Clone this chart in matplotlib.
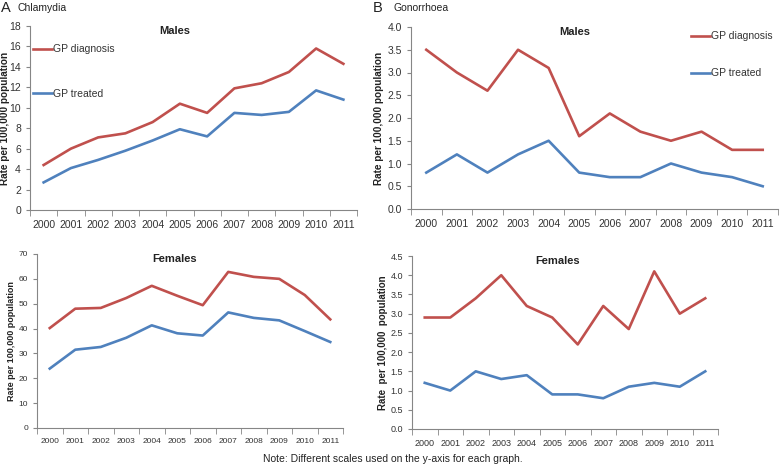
import matplotlib
matplotlib.use('Agg')
import matplotlib.pyplot as plt
import numpy as np

plt.rcParams['font.family'] = ['Liberation Sans', 'DejaVu Sans']

years = ['2000', '2001', '2002', '2003', '2004', '2005',
         '2006', '2007', '2008', '2009', '2010', '2011']

# Chlamydia
chl_m_diag = [4.4, 6.0, 7.1, 7.5, 8.6, 10.4, 9.5, 11.9, 12.4, 13.5, 15.8, 14.3]
chl_m_treat = [2.7, 4.1, 4.9, 5.8, 6.8, 7.9, 7.2, 9.5, 9.3, 9.6, 11.7, 10.8]
chl_f_diag = [40.2, 48.0, 48.3, 52.3, 57.2, 53.2, 49.4, 62.8, 60.8, 60.0, 53.5, 43.7]
chl_f_treat = [23.9, 31.5, 32.6, 36.3, 41.3, 38.1, 37.2, 46.5, 44.3, 43.3, 39.0, 34.6]

# Gonorrhoea
gon_m_diag = [3.5, 3.0, 2.6, 3.5, 3.1, 1.6, 2.1, 1.7, 1.5, 1.7, 1.3, 1.3]
gon_m_treat = [0.8, 1.2, 0.8, 1.2, 1.5, 0.8, 0.7, 0.7, 1.0, 0.8, 0.7, 0.5]
gon_f_diag = [2.9, 2.9, 3.4, 4.0, 3.2, 2.9, 2.2, 3.2, 2.6, 4.1, 3.0, 3.4]
gon_f_treat = [1.2, 1.0, 1.5, 1.3, 1.4, 0.9, 0.9, 0.8, 1.1, 1.2, 1.1, 1.5]

RED = '#C0504D'
BLUE = '#4F81BD'
GREY = '#868686'
TXT = '#333333'

W, H = 780, 466
fig = plt.figure(figsize=(W / 100, H / 100), dpi=100)

def box(l, t, r, b):
    # pixel box -> figure fraction
    return [l / W, (H - b) / H, (r - l) / W, (b - t) / H]

def setup(ax, diag, treat, ymax, ystep, fmt, title, tx, ylabel, ylx, yfs, fs):
    x = np.arange(len(years))
    ax.plot(x, diag, color=RED, lw=1.9, label='GP diagnosis')
    ax.plot(x, treat, color=BLUE, lw=1.9, label='GP treated')
    ax.set_xlim(-0.5, len(years) - 0.5)
    ax.set_ylim(0, ymax)
    yt = np.arange(0, ymax + ystep / 2, ystep)
    ax.set_yticks(yt)
    ax.set_yticklabels([fmt % v for v in yt])
    ax.set_xticks(x)
    ax.set_xticklabels(years)
    ax.set_xticks(np.arange(-0.5, len(years)), minor=True)
    ax.tick_params(axis='x', which='major', length=0, pad=7, labelsize=fs, colors=TXT)
    ax.tick_params(axis='x', which='minor', length=4, direction='out', color=GREY)
    ax.tick_params(axis='y', length=3, direction='out', labelsize=fs, labelcolor=TXT, color=GREY)
    for s in ['top', 'right']:
        ax.spines[s].set_visible(False)
    for s in ['left', 'bottom']:
        ax.spines[s].set_color(GREY)
        ax.spines[s].set_linewidth(0.8)
    ax.text(tx, 1.0, title, transform=ax.transAxes, ha='center', va='top',
            fontsize=8, fontweight='bold', color='#222222')
    ax.set_ylabel(ylabel, fontsize=yfs, fontweight='bold', color='#222222')
    lab = ax.yaxis.get_label()
    lab.set_va('center')
    ax.yaxis.set_label_coords(ylx / W, 0.5, transform=fig.transFigure)
    bb = ax.get_position()
    lab.set_position((ylx / W, bb.y0 + bb.height / 2))

ax1 = fig.add_axes(box(30, 26, 357, 210))
setup(ax1, chl_m_diag, chl_m_treat, 18, 2, '%d', 'Males', 0.443,
      'Rate per 100,000 population', 5, 7.2, 7.5)
ax1.legend(loc='upper left', bbox_to_anchor=(29 / W, 1 - 40 / H), bbox_transform=fig.transFigure,
           frameon=False, fontsize=7.5, handlelength=1.8, handletextpad=0.1,
           labelspacing=3.3, labelcolor=TXT, borderaxespad=0)

ax2 = fig.add_axes(box(411, 27, 778, 209))
setup(ax2, gon_m_diag, gon_m_treat, 4.0, 0.5, '%.1f', 'Males', 0.447,
      'Rate per 100,000 population', 379, 7.2, 7.5)
ax2.legend(loc='upper left', bbox_to_anchor=(687 / W, 1 - 27 / H), bbox_transform=fig.transFigure,
           frameon=False, fontsize=7.5, handlelength=1.8, handletextpad=0.1,
           labelspacing=2.6, labelcolor=TXT, borderaxespad=0)

ax3 = fig.add_axes(box(37, 254, 343, 428))
setup(ax3, chl_f_diag, chl_f_treat, 70, 10, '%d', 'Females', 0.45,
      'Rate per 100,000 population', 12, 6.5, 6)

ax4 = fig.add_axes(box(412, 256, 718, 429))
setup(ax4, gon_f_diag, gon_f_treat, 4.5, 0.5, '%.1f', 'Females', 0.477,
      'Rate  per 100,000  population', 383, 7, 6.5)

fig.text(1 / W, 1 - 8 / H, 'A', fontsize=10.5, va='center', ha='left', color='#222222')
fig.text(18 / W, 1 - 8 / H, 'Chlamydia', fontsize=7.5, va='center', ha='left', color='#222222')
fig.text(373 / W, 1 - 8 / H, 'B', fontsize=10.5, va='center', ha='left', color='#222222')
fig.text(393 / W, 1 - 8 / H, 'Gonorrhoea', fontsize=7.5, va='center', ha='left', color='#222222')

fig.text(263 / W, 1 - 459 / H, 'Note: Different scales used on the y-axis for each graph.',
         fontsize=7.5, ha='left', va='center', color='#222222')

plt.savefig('out.png', dpi=100)
